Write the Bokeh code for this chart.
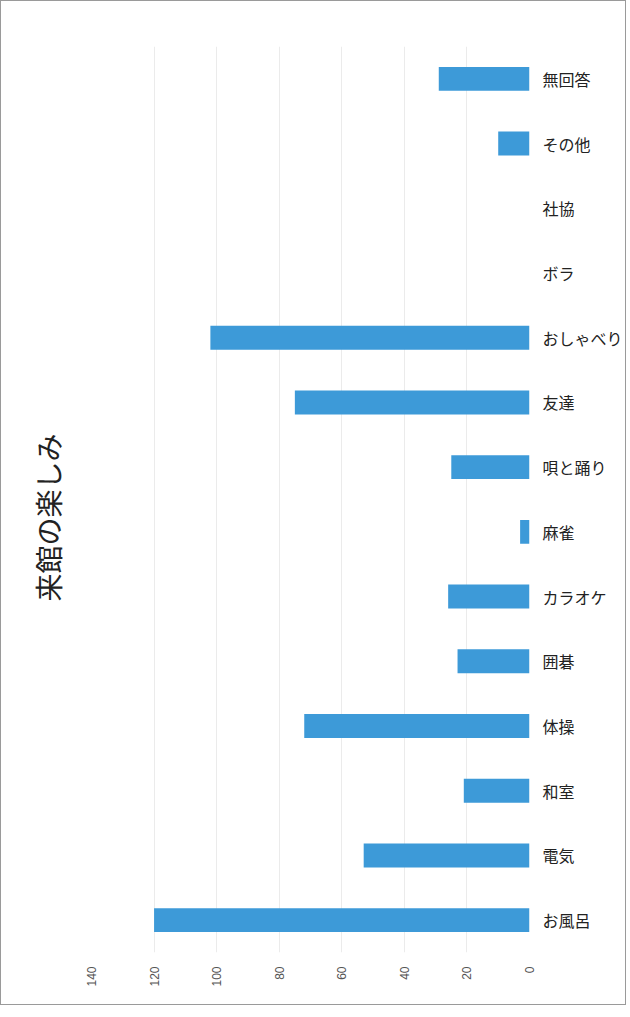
import math
from bokeh.plotting import figure
from bokeh.models import Range1d, FixedTicker, Title, ColumnDataSource
from bokeh.embed import file_html
from bokeh.resources import INLINE

categories = ["お風呂", "電気", "和室", "体操", "囲碁", "カラオケ", "麻雀",
              "唄と踊り", "友達", "おしゃべり", "ボラ", "社協", "その他", "無回答"]
counts = [120, 53, 21, 72, 23, 26, 3, 25, 75, 102, 0, 0, 10, 29]
value_ticks = [0, 20, 40, 60, 80, 100, 120, 140]
title_text = "来館の楽しみ"

positions = list(range(len(categories)))
src = ColumnDataSource(dict(y=positions, v=counts, cat=categories))

p = figure(width=626, height=1005, output_backend="svg", toolbar_location=None,
           x_range=Range1d(140, 0), y_range=Range1d(-0.5, len(categories) - 0.5),
           y_axis_location="right")
p.min_border_left = 88
p.min_border_right = 98
p.min_border_top = 45
p.min_border_bottom = 54
p.outline_line_color = None
p.background_fill_color = "white"
p.border_fill_color = "white"
p.styles = {"border": "1px solid #9a9a9a"}

p.hbar(y="y", left=0, right="v", height=0.37, source=src,
       fill_color="#3d9ad8", line_color=None)

# x axis (values)
p.xaxis.ticker = FixedTicker(ticks=value_ticks)
p.xaxis.major_label_orientation = math.pi / 2
p.xaxis.axis_line_color = None
p.xaxis.major_tick_line_color = None
p.xaxis.minor_tick_line_color = None
p.xaxis.major_label_standoff = 8
p.xaxis.major_label_text_font = "Liberation Sans"
p.xaxis.major_label_text_font_size = "12px"
p.xaxis.major_label_text_color = "#555555"

# y axis (categories)
p.yaxis.ticker = FixedTicker(ticks=positions)
p.yaxis.major_label_overrides = {i: c for i, c in zip(positions, categories)}
p.yaxis.axis_line_color = None
p.yaxis.major_tick_line_color = None
p.yaxis.minor_tick_line_color = None
p.yaxis.major_label_standoff = 7
p.yaxis.major_label_text_font = "Noto Sans CJK JP"
p.yaxis.major_label_text_font_size = "16px"
p.yaxis.major_label_text_color = "#222222"

p.xgrid.grid_line_color = "#ebebeb"
p.xgrid.ticker = FixedTicker(ticks=value_ticks)
p.ygrid.grid_line_color = None

t = Title(text=title_text, align="left", text_font="Noto Sans CJK JP",
          text_font_size="28px", text_font_style="normal", text_color="#222222")
if "standoff" in Title.properties():
    t.standoff = 48
if "offset" in Title.properties():
    t.offset = 351
p.add_layout(t, "left")

open("out.html", "w").write(file_html(p, INLINE))
